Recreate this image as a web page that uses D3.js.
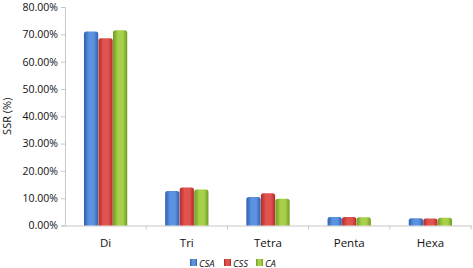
<!DOCTYPE html>
<html>
<head>
<meta charset="utf-8">
<script src="https://cdn.jsdelivr.net/npm/d3@7"></script>
<style>
  body { margin: 0; background: #fff; }
  text { font-family: "Open Sans", "Noto Sans", sans-serif; }
</style>
</head>
<body>
<div id="chart"></div>
<script>
const categories = ["Di", "Tri", "Tetra", "Penta", "Hexa"];
const seriesNames = ["CSA", "CSS", "CA"];
const csa = [71.0, 12.6, 10.4, 3.1, 2.7];
const css = [68.6, 13.9, 11.8, 3.1, 2.6];
const ca  = [71.5, 13.2, 9.8, 3.0, 2.8];
const yTicks = [0, 10, 20, 30, 40, 50, 60, 70, 80];

const width = 473, height = 268;
const margin = {top: 7, right: 2, bottom: 42.5, left: 65};

const svg = d3.select("#chart").append("svg")
    .attr("width", width)
    .attr("height", height);

// bar colours: [dark edge, light centre]
const colors = {
    CSA: ["#2f5fae", "#5b93e0"],
    CSS: ["#b12a27", "#e2534f"],
    CA:  ["#6f9a22", "#a6d04a"]
};

const defs = svg.append("defs");
seriesNames.forEach(name => {
    const g = defs.append("linearGradient")
        .attr("id", "grad-" + name)
        .attr("x1", "0%").attr("x2", "100%").attr("y1", "0%").attr("y2", "0%");
    g.append("stop").attr("offset", "0%").attr("stop-color", colors[name][0]);
    g.append("stop").attr("offset", "35%").attr("stop-color", colors[name][1]);
    g.append("stop").attr("offset", "70%").attr("stop-color", colors[name][1]);
    g.append("stop").attr("offset", "100%").attr("stop-color", colors[name][0]);
});

const x = d3.scaleBand()
    .domain(categories)
    .range([margin.left, width - margin.right])
    .paddingInner(0)
    .paddingOuter(0);

const x1 = d3.scaleBand()
    .domain(seriesNames)
    .range([0, x.bandwidth() * 0.54])
    .padding(0.02);

const y = d3.scaleLinear()
    .domain([0, 80])
    .range([height - margin.bottom, margin.top]);

// y axis
const yAxis = svg.append("g")
    .attr("transform", `translate(${margin.left},0)`)
    .call(d3.axisLeft(y).tickValues(yTicks).tickSize(4).tickFormat(d => d.toFixed(2) + "%"));
yAxis.select(".domain").attr("stroke", "#c8c8c8");
yAxis.selectAll(".tick line").attr("stroke", "#c8c8c8");
yAxis.selectAll(".tick text")
    .attr("x", -7)
    .style("font-size", "10.5px")
    .attr("fill", "#111");

// x axis
const xAxis = svg.append("g")
    .attr("transform", `translate(0,${y(0)})`)
    .call(d3.axisBottom(x).tickSize(0).tickSizeOuter(0));
xAxis.select(".domain").attr("stroke", "#c8c8c8");
xAxis.selectAll(".tick text")
    .attr("dy", "1.6em")
    .style("font-size", "11.5px")
    .attr("fill", "#111");

// tick marks between categories
svg.append("g").selectAll("line")
    .data(categories)
    .enter()
    .append("line")
    .attr("x1", d => x(d) + x.bandwidth())
    .attr("x2", d => x(d) + x.bandwidth())
    .attr("y1", y(0))
    .attr("y2", y(0) + 4)
    .attr("stroke", "#c8c8c8");

// y title
svg.append("text")
    .attr("transform", `translate(11,${(y(0) + y(80)) / 2}) rotate(-90)`)
    .attr("text-anchor", "middle")
    .style("font-size", "11px")
    .attr("fill", "#111")
    .text("SSR (%)");

// bars
const values = {CSA: csa, CSS: css, CA: ca};
const groups = svg.append("g").selectAll("g")
    .data(categories)
    .enter()
    .append("g")
    .attr("transform", d => `translate(${x(d) + (x.bandwidth() - x1.range()[1]) / 2},0)`);

groups.selectAll("path")
    .data((d, i) => seriesNames.map(s => ({series: s, value: values[s][i]})))
    .enter()
    .append("path")
    .attr("d", d => {
        const x0 = x1(d.series), w = x1.bandwidth();
        const top = y(d.value), bot = y(0), r = Math.min(2.5, (bot - top) / 2);
        return `M${x0},${bot} L${x0},${top + r} Q${x0},${top} ${x0 + r},${top}`
            + ` L${x0 + w - r},${top} Q${x0 + w},${top} ${x0 + w},${top + r} L${x0 + w},${bot} Z`;
    })
    .attr("fill", d => `url(#grad-${d.series})`);

// legend
const legend = svg.append("g").attr("transform", `translate(190,263)`);
const legendX = [0, 34, 66];
seriesNames.forEach((name, i) => {
    const lg = legend.append("g").attr("transform", `translate(${legendX[i]},0)`);
    lg.append("rect")
        .attr("x", 0).attr("y", -4)
        .attr("width", 7).attr("height", 7)
        .attr("fill", `url(#grad-${name})`);
    lg.append("text")
        .attr("x", 9).attr("y", 3.5)
        .style("font-size", "9.5px")
        .style("font-style", "italic")
        .attr("fill", "#111")
        .text(name);
});
</script>
</body>
</html>
